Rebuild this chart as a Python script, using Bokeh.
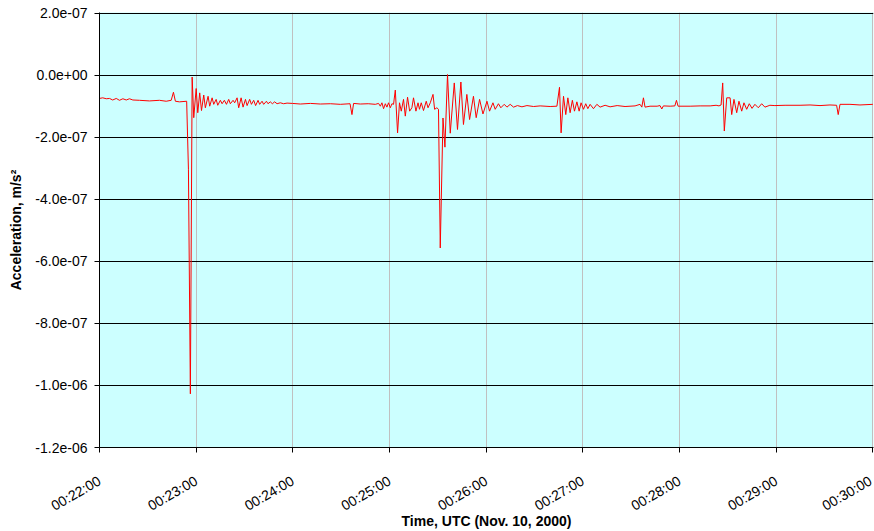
import math
import datetime as dt
from bokeh.plotting import figure
from bokeh.models import (FixedTicker, CustomJSTickFormatter, DatetimeTickFormatter,
                          Range1d, ColumnDataSource)
from bokeh.embed import file_html
from bokeh.resources import INLINE

# ---- data -----------------------------------------------------------------
# seconds after 00:22:00 UTC, Nov. 10, 2000
t_sec = [0, 2.0, 4.2, 6.2, 8.2, 10.4, 12.4, 14.5, 16.6, 18.6, 20.7, 24.8, 31.0, 37.2,
         41.4, 44.5, 45.9, 47.1, 49.6, 54.1, 55.2, 56.4, 57.5, 58.5, 60.0, 61.0,
         62.2, 63.3, 64.7, 65.7, 67.4, 68.4, 69.9, 70.9, 72.4, 73.4, 75.0, 76.1,
         77.5, 78.8, 80.2, 81.2, 82.9, 83.9, 85.4, 86.4, 87.9, 89.1, 90.6, 91.6,
         93.2, 94.3, 95.7, 96.9, 98.4, 99.4, 100.9, 101.9, 103.6, 104.6, 106.0,
         107.3, 108.7, 110.2, 112.2, 114.3, 116.4, 119.7, 124.7, 130.9, 137.1,
         143.3, 149.5, 155.5, 156.7, 157.7, 161.9, 166.8, 171.2, 173.2, 174.3,
         175.3, 176.3, 177.4, 178.4, 179.4, 180.5, 181.5, 182.5, 183.6, 185.0,
         186.2, 187.3, 188.7, 189.8, 191.2, 192.5, 193.9, 194.9, 196.4, 197.7,
         198.6, 199.7, 201.1, 202.8, 203.9, 205.3, 207.0, 208.0, 209.4, 210.4,
         211.5, 213.2, 214.4, 216.0, 217.7, 220.2, 222.2, 224.3, 225.9, 228.0,
         229.7, 232.1, 233.8, 235.9, 238.0, 240.5, 242.1, 244.2, 245.6, 247.6,
         249.1, 251.2, 252.9, 254.9, 257.0, 259.4, 262.2, 265.3, 269.4, 273.5,
         279.7, 283.9, 285.5, 286.5, 288.0, 289.4, 290.7, 292.1, 293.5, 294.8,
         296.3, 297.7, 298.9, 300.4, 301.8, 303.1, 304.5, 306.6, 308.7, 310.7,
         313.8, 316.9, 321.3, 326.2, 332.4, 335.5, 336.6, 337.6, 338.6, 341.7,
         346.1, 347.9, 349.0, 350.0, 354.2, 357.1, 358.1, 359.1, 366.6, 372.8,
         379.0, 382.7, 384.5, 385.8, 386.8, 387.8, 389.3, 391.4, 392.4, 393.8,
         395.5, 396.9, 398.6, 400.0, 401.7, 403.3, 405.0, 406.8, 408.9, 411.0,
         413.0, 416.1, 419.2, 425.5, 434.8, 441.0, 447.2, 453.4, 457.5, 458.5,
         459.6, 465.8, 472.0, 480.0]

# acceleration in units of 1e-7 m/s^2
accel_e7 = [-0.75, -0.73, -0.76, -0.75, -0.80, -0.75, -0.81, -0.76, -0.80, -0.76, -0.80,
            -0.81, -0.83, -0.81, -0.84, -0.81, -0.55, -0.84, -0.86, -0.84, -3.03,
            -10.27, -0.06, -1.37, -0.43, -1.21, -0.57, -1.14, -0.64, -1.05, -0.68,
            -1.00, -0.73, -0.94, -0.78, -0.97, -0.81, -0.92, -0.81, -0.94, -0.78,
            -0.92, -0.81, -0.89, -0.73, -1.05, -0.73, -1.03, -0.78, -0.98, -0.78,
            -0.94, -0.81, -0.98, -0.81, -0.94, -0.84, -0.94, -0.84, -0.92, -0.86,
            -0.92, -0.86, -0.92, -0.89, -0.92, -0.90, -0.91, -0.93, -0.91, -0.93,
            -0.92, -0.94, -0.92, -1.27, -0.91, -0.93, -0.92, -0.94, -0.91, -1.00,
            -0.89, -1.08, -0.92, -1.03, -0.89, -1.05, -0.92, -0.94, -0.48, -1.86,
            -0.89, -1.16, -0.78, -1.32, -0.71, -1.16, -1.05, -0.73, -1.16, -0.89,
            -1.10, -0.89, -1.14, -0.84, -1.05, -0.89, -0.62, -1.10, -1.05, -1.10,
            -5.57, -1.38, -2.32, 0.02, -1.87, -0.25, -1.75, -0.22, -1.59, -0.62,
            -1.43, -0.68, -1.37, -0.78, -1.25, -0.84, -1.16, -0.89, -1.10, -0.92,
            -1.05, -0.94, -1.03, -0.94, -1.03, -0.98, -1.02, -0.98, -1.01, -0.99,
            -1.01, -1.00, -0.39, -1.86, -0.68, -1.27, -0.73, -1.21, -0.81, -1.16,
            -0.86, -1.16, -0.89, -1.10, -0.92, -1.08, -0.94, -1.08, -0.94, -1.03,
            -0.97, -1.02, -0.98, -1.01, -0.99, -0.94, -1.03, -0.73, -1.03, -1.00,
            -1.00, -0.98, -1.09, -0.99, -1.00, -0.99, -0.81, -1.00, -1.00, -0.99,
            -0.99, -0.97, -0.99, -0.96, -0.25, -1.80, -0.73, -0.73, -1.27, -0.78,
            -1.21, -0.84, -1.16, -0.89, -1.10, -0.92, -1.07, -0.94, -1.05, -0.92,
            -1.03, -0.97, -0.98, -0.97, -0.97, -0.96, -0.98, -0.96, -0.97, -1.27,
            -0.94, -0.94, -0.96, -0.94]

x_tick_labels = ["00:22:00", "00:23:00", "00:24:00", "00:25:00", "00:26:00",
                 "00:27:00", "00:28:00", "00:29:00", "00:30:00"]
y_ticks_e7 = [-12, -10, -8, -6, -4, -2, 0, 2]

# ---- build ----------------------------------------------------------------
day = dt.datetime(2000, 11, 10)
epoch = dt.datetime(1970, 1, 1)
base = dt.datetime(2000, 11, 10, 0, 22, 0)


def to_ms(d):
    return (d - epoch).total_seconds() * 1000.0


x_ms = [to_ms(base) + s * 1000.0 for s in t_sec]
y_val = [v * 1e-7 for v in accel_e7]
src = ColumnDataSource(dict(x=x_ms, y=y_val))

x_ticks = []
for lab in x_tick_labels:
    hh, mm, ss = (int(k) for k in lab.split(":"))
    x_ticks.append(to_ms(day + dt.timedelta(hours=hh, minutes=mm, seconds=ss)))

FONT = "Liberation Sans"

# small padding so the edge grid lines stay visible
x_pad = 400.0
y_pad = 0.02e-7

p = figure(width=874, height=531, output_backend="svg", toolbar_location=None,
           x_axis_type="datetime",
           x_range=Range1d(x_ticks[0], x_ticks[-1] + x_pad),
           y_range=Range1d(y_ticks_e7[0] * 1e-7, y_ticks_e7[-1] * 1e-7 + y_pad),
           min_border_left=99, min_border_right=1, min_border_top=12,
           min_border_bottom=84)

p.background_fill_color = "#CCFFFF"
p.border_fill_color = "white"
p.outline_line_color = None

p.line("x", "y", source=src, color="#FF0000", line_width=1)

p.xaxis.ticker = FixedTicker(ticks=x_ticks)
p.xaxis.formatter = DatetimeTickFormatter(
    microseconds="%H:%M:%S", milliseconds="%H:%M:%S", seconds="%H:%M:%S",
    minsec="%H:%M:%S", minutes="%H:%M:%S", hourmin="%H:%M:%S", hours="%H:%M:%S",
    days="%H:%M:%S", months="%H:%M:%S", years="%H:%M:%S")
p.xaxis.major_label_orientation = math.pi / 6

p.yaxis.ticker = FixedTicker(ticks=[v * 1e-7 for v in y_ticks_e7])
p.yaxis.formatter = CustomJSTickFormatter(code="""
    const e = tick.toExponential(1);
    const parts = e.split("e");
    const ex = parts[1];
    const sign = ex[0];
    const d = ex.slice(1).padStart(2, "0");
    return parts[0] + "e" + sign + d;
""")

for ax in (p.xaxis[0], p.yaxis[0]):
    ax.axis_line_color = "black"
    ax.axis_line_width = 1
    ax.major_tick_line_color = "black"
    ax.major_tick_out = 5
    ax.major_tick_in = 0
    ax.minor_tick_line_color = None
    ax.major_label_text_font = FONT
    ax.major_label_text_font_size = "14px"
    ax.major_label_text_color = "black"
    ax.axis_label_text_font = FONT
    ax.axis_label_text_font_size = "14px"
    ax.axis_label_text_font_style = "bold"
    ax.axis_label_text_color = "black"

p.xaxis.axis_label = "Time, UTC (Nov. 10, 2000)"
p.yaxis.axis_label = "Acceleration, m/s²"
p.yaxis.major_label_standoff = 7
p.xaxis.major_label_standoff = 27
p.yaxis.axis_label_standoff = 8
p.xaxis.axis_label_standoff = -11

p.ygrid.grid_line_color = "black"
p.ygrid.grid_line_width = 1
p.xgrid.grid_line_color = "#C0C0C0"
p.xgrid.grid_line_width = 1

open("out.html", "w").write(file_html(p, INLINE))
